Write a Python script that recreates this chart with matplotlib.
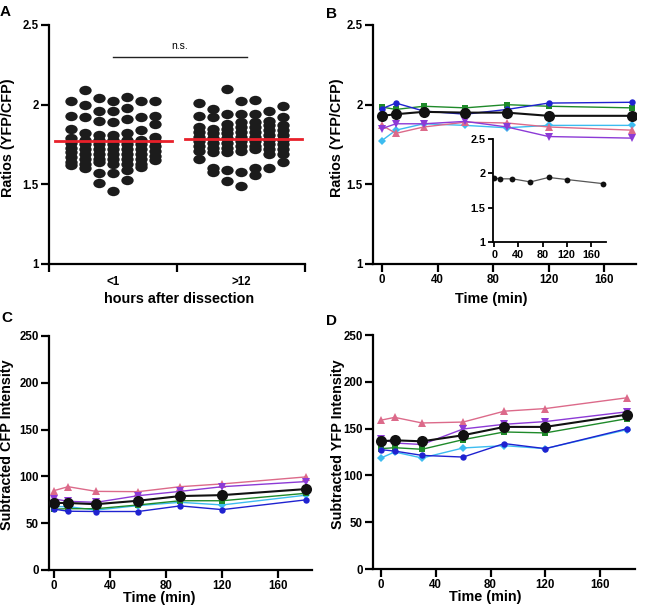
import numpy as np
import matplotlib
matplotlib.use("Agg")
import matplotlib.pyplot as plt
from matplotlib.path import Path
from matplotlib.transforms import Affine2D

plt.rcParams['font.family'] = ['Liberation Sans', 'DejaVu Sans']
plt.rcParams['font.weight'] = 'bold'

# ---- panel A: ratios per group, stored column by column as in the dot plot
group_labels = ["<1", ">12"]
early_cols = [
    [2.02, 1.93, 1.85, 1.79, 1.76, 1.73, 1.70, 1.67, 1.64, 1.62],
    [2.09, 2.00, 1.92, 1.82, 1.78, 1.75, 1.72, 1.69, 1.66, 1.63, 1.60],
    [2.04, 1.96, 1.90, 1.81, 1.78, 1.75, 1.72, 1.69, 1.66, 1.64, 1.57, 1.51],
    [2.02, 1.96, 1.89, 1.81, 1.78, 1.75, 1.72, 1.69, 1.66, 1.63, 1.57, 1.46],
    [2.05, 1.98, 1.91, 1.82, 1.78, 1.75, 1.72, 1.69, 1.66, 1.63, 1.59, 1.53],
    [2.02, 1.92, 1.84, 1.78, 1.75, 1.72, 1.69, 1.66, 1.63, 1.61],
    [2.02, 1.93, 1.88, 1.80, 1.77, 1.74, 1.71, 1.68, 1.65],
]
late_cols = [
    [2.01, 1.93, 1.86, 1.83, 1.80, 1.77, 1.74, 1.71, 1.66],
    [1.97, 1.92, 1.85, 1.82, 1.79, 1.76, 1.73, 1.70, 1.60, 1.58],
    [2.10, 1.94, 1.88, 1.85, 1.82, 1.79, 1.76, 1.73, 1.70, 1.59, 1.52],
    [2.02, 1.94, 1.89, 1.86, 1.83, 1.80, 1.77, 1.74, 1.71, 1.58, 1.49],
    [2.03, 1.94, 1.89, 1.86, 1.83, 1.80, 1.77, 1.74, 1.72, 1.60, 1.56],
    [1.96, 1.90, 1.87, 1.84, 1.81, 1.78, 1.75, 1.72, 1.69, 1.60],
    [1.99, 1.92, 1.87, 1.84, 1.81, 1.78, 1.75, 1.72, 1.69, 1.64],
]
group_means = [1.772, 1.782]

# ---- panels B-D: time course per slice
time = [0, 10, 30, 60, 90, 120, 180]
series_names = ["cyan", "pink", "purple", "green", "blue", "black"]
colors = {"cyan": "#3cbcf0", "pink": "#dc6a8a", "purple": "#8c3ad6",
          "green": "#1f8a2a", "blue": "#1f22d0", "black": "#111111"}
markers = {"cyan": "D", "pink": "^", "purple": "v", "green": "s",
           "blue": "o", "black": "o"}

ratio = {
    "cyan":   [1.775, 1.84, 1.88, 1.87, 1.855, 1.87, 1.87],
    "pink":   [1.87, 1.82, 1.86, 1.89, 1.885, 1.86, 1.84],
    "purple": [1.85, 1.88, 1.88, 1.895, 1.86, 1.80, 1.79],
    "green":  [1.985, 1.97, 1.99, 1.98, 2.00, 1.99, 1.98],
    "blue":   [1.975, 2.01, 1.96, 1.94, 1.97, 2.01, 2.015],
    "black":  [1.93, 1.94, 1.955, 1.95, 1.95, 1.93, 1.93],
}
inset_ratio = [1.93, 1.92, 1.92, 1.875, 1.94, 1.91, 1.85]

cfp = {
    "cyan":   [67.7, 67.7, 64, 68.8, 72.3, 69.5, 80],
    "pink":   [84.8, 89, 84, 83.7, 89, 92, 99.5],
    "purple": [76, 73.4, 72.3, 79.4, 84, 89, 94.5],
    "green":  [65, 65.5, 65.5, 69.5, 74, 74, 82],
    "blue":   [65, 62.8, 62.5, 62.5, 68.5, 64.5, 75],
    "black":  [71.6, 71.6, 70.3, 74, 79, 80, 86.5],
}
yfp = {
    "cyan":   [118.6, 125, 118.6, 129.3, 131.8, 128.6, 149],
    "pink":   [159, 162, 156, 157, 168.6, 171.4, 183],
    "purple": [139, 134.6, 133, 149.6, 154.6, 157.5, 168],
    "green":  [128.6, 129.6, 127.9, 138.2, 146.4, 145.4, 160.7],
    "blue":   [127.5, 126, 121.4, 119.6, 134, 128.6, 150],
    "black":  [136.4, 137.5, 136.4, 142.9, 151.8, 151.8, 165],
}

fig = plt.figure(figsize=(6.49, 6.05), dpi=100)
W, H = 649.0, 605.0


def px_axes(x0, y0, x1, y1):
    return fig.add_axes([x0 / W, 1 - y1 / H, (x1 - x0) / W, (y1 - y0) / H])


def style(ax, lw=1.6, tl=5.5, fs=8.3):
    for s in ["top", "right"]:
        ax.spines[s].set_visible(False)
    for s in ["left", "bottom"]:
        ax.spines[s].set_linewidth(lw)
    ax.tick_params(direction="out", length=tl, width=lw, pad=2, labelsize=fs)
    for lab in ax.get_xticklabels() + ax.get_yticklabels():
        lab.set_fontweight("bold")


# ---------------- A
axA = px_axes(49, 25, 305, 264)
ell = Path.unit_circle().transformed(Affine2D().scale(1, 0.76))
col_step = 0.109
for g, cols in enumerate([early_cols, late_cols]):
    for c, vals in enumerate(cols):
        xs = np.full(len(vals), g + 0.5 + (c - 3) * col_step)
        axA.plot(xs, vals, linestyle="none", marker=ell, markersize=8.9,
                 color="#1c1c1c", markeredgewidth=0, zorder=2)
axA.plot([0.045, 0.96], [group_means[0]] * 2, color="#e8202a", lw=2, zorder=3)
axA.plot([1.06, 1.98], [group_means[1]] * 2, color="#e8202a", lw=2, zorder=3)
axA.plot([0.5, 1.55], [2.30, 2.30], color="#222222", lw=1)
axA.text(1.02, 2.335, "n.s.", ha="center", va="bottom", fontsize=7.5,
         fontweight="normal")
axA.set_xlim(0, 2)
axA.set_ylim(1, 2.5)
axA.set_xticks([0, 1, 2])
axA.set_xticklabels(["", "", ""])
axA.set_xticks([0.5, 1.5], minor=True)
axA.set_xticklabels(group_labels, minor=True)
axA.set_yticks([1, 1.5, 2, 2.5])
axA.set_yticklabels(["1", "1.5", "2", "2.5"])
style(axA)
axA.tick_params(axis="x", which="minor", length=0, pad=9, labelsize=8.3)
for lab in axA.get_xticklabels(minor=True):
    lab.set_fontweight("bold")
axA.set_xlabel("hours after dissection", fontsize=10.4, fontweight="bold", va="center")
axA.xaxis.set_label_coords(0.51, -0.146)
axA.set_ylabel("Ratios (YFP/CFP)", fontsize=10.4, fontweight="bold", va="center")
axA.yaxis.set_label_coords(-0.162, 0.527)


def time_panel(ax, data, big=8.0, small=4.6):
    for name in series_names:
        if name == "black":
            ax.plot(time, data[name], color=colors[name], lw=1.5, marker="o",
                    markersize=big, markeredgewidth=0, zorder=4)
        else:
            ms = small + (0.6 if markers[name] in "^v" else 0)
            if markers[name] == "D":
                ms = small - 0.6
            ax.plot(time, data[name], color=colors[name], lw=1.0,
                    marker=markers[name], markersize=ms, markeredgewidth=0,
                    zorder=3)
    ax.set_xticks([0, 40, 80, 120, 160])


# ---------------- B
axB = px_axes(373, 25, 636, 264)
time_panel(axB, ratio)
axB.set_xlim(-6.5, 183)
axB.set_ylim(1, 2.5)
axB.set_yticks([1, 1.5, 2, 2.5])
axB.set_yticklabels(["1", "1.5", "2", "2.5"])
style(axB)
axB.set_xlabel("Time (min)", fontsize=10.4, fontweight="bold", va="center")
axB.xaxis.set_label_coords(0.449, -0.146)
axB.set_ylabel("Ratios (YFP/CFP)", fontsize=10.4, fontweight="bold", va="center")
axB.yaxis.set_label_coords(-0.135, 0.527)

# inset
axI = px_axes(493, 139, 606, 242)
axI.plot(time, inset_ratio, color="#555555", lw=0.9, marker="o",
         markersize=4.2, markerfacecolor="#111111", markeredgewidth=0)
axI.set_xlim(-2, 185)
axI.set_ylim(1, 2.5)
axI.set_xticks([0, 40, 80, 120, 160])
axI.set_yticks([1, 1.5, 2, 2.5])
axI.set_yticklabels(["1", "1.5", "2", "2.5"])
axI.patch.set_alpha(0)
style(axI, lw=1.3, tl=3.5, fs=7.8)

# ---------------- C
axC = px_axes(49, 336, 312, 570)
time_panel(axC, cfp)
axC.set_xlim(-3.6, 184)
axC.set_ylim(0, 250)
axC.set_yticks([0, 50, 100, 150, 200, 250])
style(axC)
axC.set_xlabel("Time (min)", fontsize=10.4, fontweight="bold", va="center")
axC.xaxis.set_label_coords(0.418, -0.12)
axC.set_ylabel("Subtracted CFP Intensity", fontsize=10.4, fontweight="bold", va="center")
axC.yaxis.set_label_coords(-0.158, 0.534)

# ---------------- D
axD = px_axes(373, 335, 635, 569)
time_panel(axD, yfp)
axD.set_xlim(-5.8, 185.5)
axD.set_ylim(0, 250)
axD.set_yticks([0, 50, 100, 150, 200, 250])
style(axD)
axD.set_xlabel("Time (min)", fontsize=10.4, fontweight="bold", va="center")
axD.xaxis.set_label_coords(0.43, -0.12)
axD.set_ylabel("Subtracted YFP Intensity", fontsize=10.4, fontweight="bold", va="center")
axD.yaxis.set_label_coords(-0.134, 0.534)

# panel letters
for letter, x, y in [("A", 0, 5), ("B", 326, 7), ("C", 1, 311), ("D", 326, 314)]:
    fig.text(x / W, 1 - y / H, letter, fontsize=11, fontweight="bold",
             ha="left", va="top")

fig.savefig("out.png", dpi=100)
